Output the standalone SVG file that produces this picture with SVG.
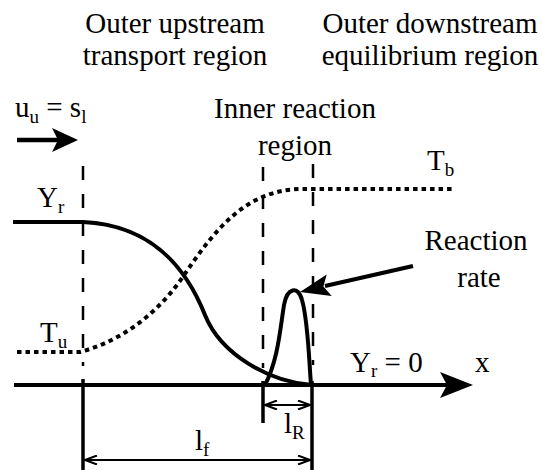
<svg xmlns="http://www.w3.org/2000/svg" width="542" height="470" viewBox="0 0 542 470">
<style>
.t{font-family:"Times New Roman","Liberation Serif","DejaVu Serif",serif;font-size:29px;fill:#000}
.s{font-size:19px}
.m{text-anchor:middle}
.dash{stroke:#000;stroke-width:2.5;stroke-dasharray:14 14;fill:none}
.solid{stroke:#000;stroke-width:3.5;fill:none}
.curve{stroke:#000;stroke-width:4;fill:none}
.dot{stroke:#000;stroke-width:4;fill:none;stroke-dasharray:4.5 4}
</style>
<defs>
<marker id="open" viewBox="0 0 14 10" refX="13" refY="5" markerWidth="14" markerHeight="10" markerUnits="userSpaceOnUse" orient="auto-start-reverse">
<path d="M1,0.5 L13,5 L1,9.5" fill="none" stroke="#000" stroke-width="2"/>
</marker>
</defs>
<rect width="542" height="470" fill="#fff"/>
<g id="region-upstream">
<text class="t m" x="175" y="33">Outer upstream</text>
<text class="t m" x="175" y="65">transport region</text>
</g>
<g id="region-downstream">
<text class="t m" x="430" y="33">Outer downstream</text>
<text class="t m" x="430" y="65">equilibrium region</text>
</g>
<g id="region-inner">
<text class="t m" x="295" y="118">Inner reaction</text>
<text class="t m" x="295" y="155">region</text>
</g>
<g id="label-velocity"><text class="t" x="15" y="117">u<tspan class="s" dy="6">u</tspan><tspan dy="-6"> = s</tspan><tspan class="s" dy="6">l</tspan></text></g>
<g id="label-Tb"><text class="t" x="427" y="170">T<tspan class="s" dy="6">b</tspan></text></g>
<g id="label-Yr"><text class="t" x="37" y="207">Y<tspan class="s" dy="6">r</tspan></text></g>
<g id="label-Tu"><text class="t" x="40" y="342">T<tspan class="s" dy="6">u</tspan></text></g>
<g id="label-reaction">
<text class="t m" x="476" y="250">Reaction</text>
<text class="t m" x="479" y="287">rate</text>
</g>
<g id="label-Yr0"><text class="t" x="350" y="372">Y<tspan class="s" dy="5">r</tspan><tspan dy="-5"> = 0</tspan></text></g>
<g id="label-x"><text class="t" x="475" y="372">x</text></g>
<g id="label-lR"><text class="t" x="284" y="433">l<tspan class="s" dy="6">R</tspan></text></g>
<g id="label-lf"><text class="t" x="195" y="450">l<tspan class="s" dy="6">f</tspan></text></g>
<g id="guides">
<line class="dash" x1="83" y1="166" x2="83" y2="366"/>
<line class="dash" x1="263" y1="167" x2="263" y2="368"/>
<line class="dash" x1="313" y1="164" x2="313" y2="365"/>
<line class="solid" x1="83" y1="379" x2="83" y2="470"/>
<line class="solid" x1="263" y1="381" x2="263" y2="423"/>
<line class="solid" x1="312" y1="381" x2="312" y2="470"/>
</g>
<g id="curves">
<path class="curve" d="M13,222 H83 C150,225 185,265 205,315 C221,355 270,382 312,385"/>
<path class="dot" d="M17,352 H80 C125,340 160,310 182,278 C214,231 245,189 303,189 H453"/>
<path class="curve" d="M265,385 C278,360 280,330 284,305 C287,288 298,285 302,300 C308,320 309,360 311,385"/>
</g>
<g id="connectors" stroke="#000" fill="#000">
<line x1="17" y1="140" x2="60" y2="140" stroke-width="4.5"/>
<polygon stroke="none" points="78,140 52,128 58,140 52,152"/>
<line x1="14" y1="385" x2="448" y2="385" stroke-width="4"/>
<polygon stroke="none" points="473,385 440,372 447,385 440,398"/>
<line x1="413" y1="266" x2="325" y2="286" stroke-width="4"/>
<polygon stroke="none" points="300,292 326.7,274.6 323.4,286.6 331.7,296"/>
<line x1="265" y1="405" x2="310" y2="405" stroke-width="2" marker-start="url(#open)" marker-end="url(#open)"/>
<line x1="85" y1="460" x2="310" y2="460" stroke-width="2" marker-start="url(#open)" marker-end="url(#open)"/>
</g>
</svg>
